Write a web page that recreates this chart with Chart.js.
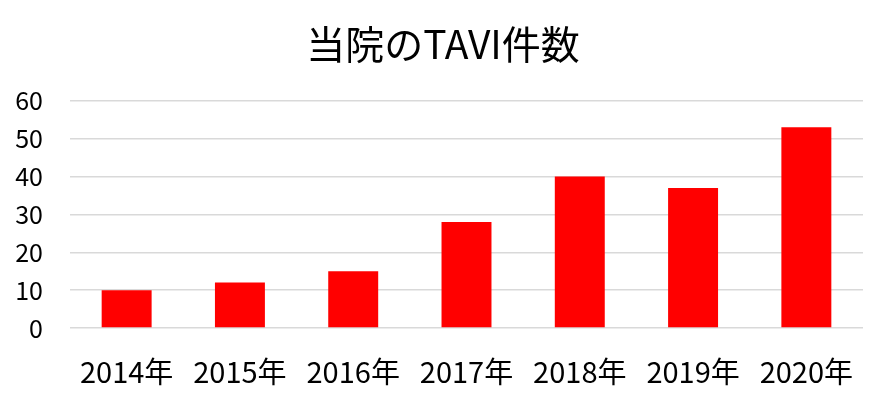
<!DOCTYPE html>
<html>
<head>
<meta charset="utf-8">
<script src="https://cdn.jsdelivr.net/npm/chart.js@4"></script>
<style>
  html, body { margin: 0; padding: 0; background: #fff; }
  #wrap { width: 886px; height: 407px; }
</style>
</head>
<body>
<div id="wrap"><canvas id="chart1"></canvas></div>
<script>
const years = ['2014年', '2015年', '2016年', '2017年', '2018年', '2019年', '2020年'];
const counts = [10, 12, 15, 28, 40, 37, 53];
const yTicks = [0, 10, 20, 30, 40, 50, 60];

const font = "'Noto Sans CJK JP', 'Noto Sans', sans-serif";

new Chart(document.getElementById('chart1').getContext('2d'), {
    type: 'bar',
    data: {
        labels: years,
        datasets: [{
            label: '件数',
            data: counts,
            backgroundColor: '#ff0000',
            borderWidth: 0,
            barPercentage: 0.63,
            categoryPercentage: 0.7
        }]
    },
    options: {
        responsive: true,
        maintainAspectRatio: false,
        animation: false,
        layout: { padding: { left: 0, right: 0, top: 21, bottom: 0 } },
        plugins: {
            legend: { display: false },
            tooltip: { enabled: false },
            title: {
                display: true,
                text: '当院のTAVI件数',
                color: '#000',
                font: { family: font, size: 39, weight: 'normal' },
                padding: { top: 0, bottom: 33 }
            }
        },
        scales: {
            y: {
                min: 0,
                max: 60,
                afterFit: (s) => { s.width = 70; },
                afterBuildTicks: (s) => { s.ticks = yTicks.map(v => ({ value: v })); },
                border: { display: false },
                grid: { color: '#d9d9d9', lineWidth: 1.5, drawTicks: false },
                ticks: {
                    color: '#000',
                    padding: 27,
                    font: { family: font, size: 25 }
                }
            },
            // 右側の余白用（表示なし）
            yRight: {
                position: 'right',
                min: 0,
                max: 60,
                afterFit: (s) => { s.width = 23; },
                border: { display: false },
                grid: { display: false, drawTicks: false },
                ticks: { display: false }
            },
            x: {
                afterFit: (s) => { s.height = 79; },
                border: { display: false },
                grid: { display: false, drawTicks: false },
                ticks: {
                    color: '#000',
                    padding: 27,
                    font: { family: font, size: 29 }
                }
            }
        }
    }
});
</script>
</body>
</html>
